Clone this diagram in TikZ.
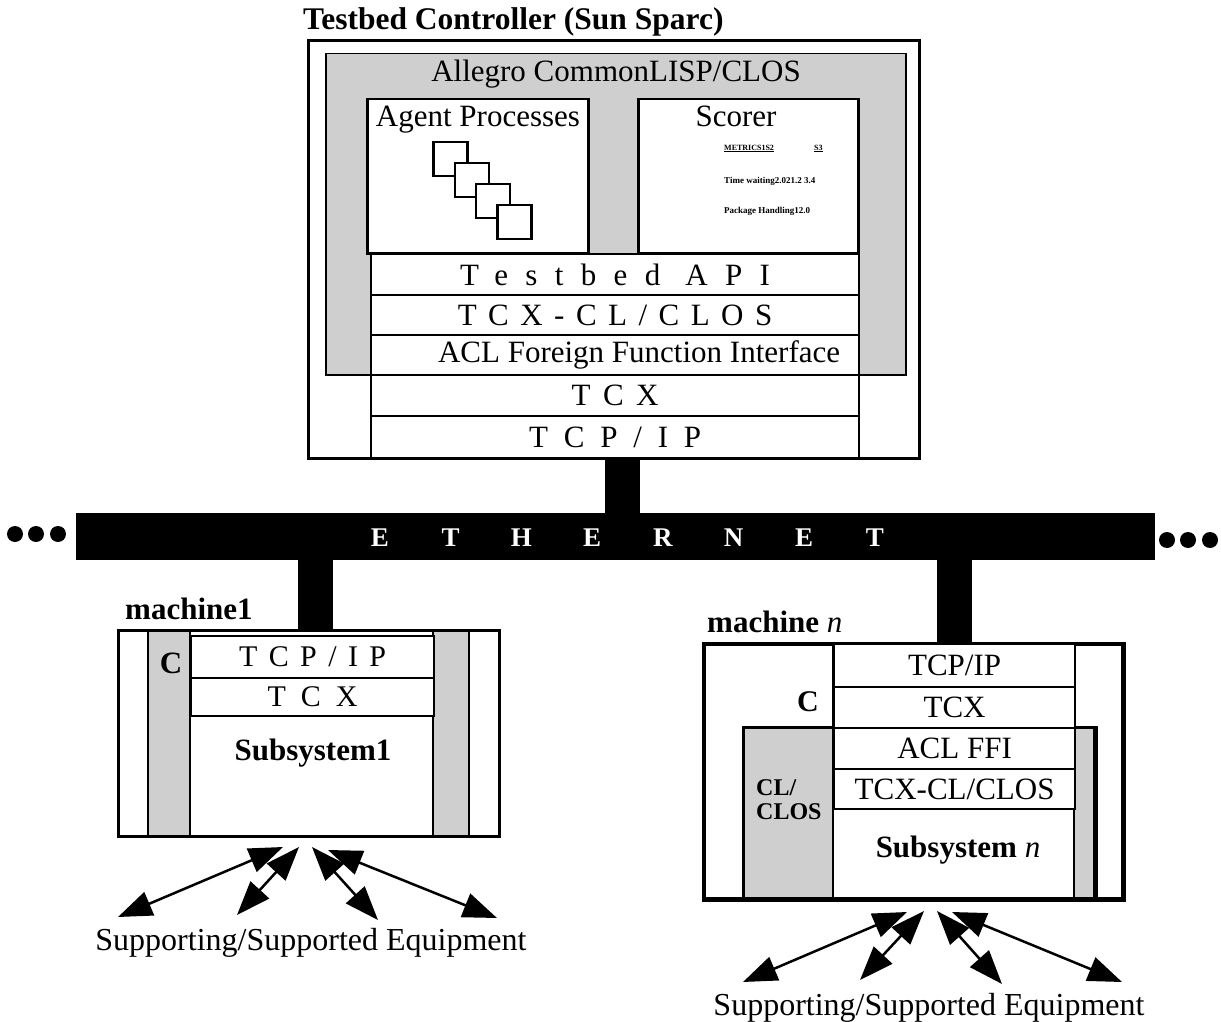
\documentclass[tikz,border=0pt]{standalone}
\usepackage{fontspec}
\setmainfont{Liberation Serif}
\usetikzlibrary{arrows.meta}

\newcommand\fsz[1]{\fontsize{#1}{#1}\selectfont}
\newcommand\ls[1]{\addfontfeatures{LetterSpace=#1}}

\tikzset{
  frame/.style={draw, line width=3pt, fill=white, inner sep=0pt, anchor=north west},
  panel/.style={draw, line width=2.5pt, fill=white, inner sep=0pt, anchor=north west},
  layer/.style={draw, line width=2.2pt, fill=white, inner sep=0pt, anchor=north west, font=\fsz{31}},
  stipple/.style={fill=black!19},
  lbl/.style={inner sep=0pt, anchor=base},
  proc/.style={draw, line width=2.5pt, fill=white, inner sep=0pt, minimum size=34pt},
  tiny/.style={inner sep=0pt, anchor=base west, font=\bfseries\fsz{9}},
  stub/.style={line width=35pt},
  bigdot/.style={circle, fill=black, inner sep=0pt, minimum size=16pt},
  equip/.style={{Triangle[length=34pt,width=25pt]}-{Triangle[length=34pt,width=25pt]}, line width=2.5pt},
}

\begin{document}
\begin{tikzpicture}[x=1pt, y=-1pt]
\useasboundingbox (0,0) rectangle (1221,1022);

% ---------------- Testbed controller ----------------
\node[frame, minimum width=611pt, minimum height=418pt] (ctrl) at (307,39) {};
\node[lbl, anchor=base west, font=\bfseries\fsz{31.5}] (ctrltitle) at (303,30) {Testbed Controller (Sun Sparc)};

\node[draw, line width=1.5pt, stipple, inner sep=0pt, anchor=north west,
      minimum width=580pt, minimum height=321pt] (acl) at (325,53) {};
\node[lbl, font=\fsz{31}] (acltext) at (616,82) {Allegro CommonLISP/CLOS};

% agent processes
\node[panel, minimum width=221pt, minimum height=154pt] (agent) at (366,98) {};
\node[lbl, font=\fsz{31}] (agenttext) at (478,127) {Agent Processes};
\foreach \i in {0,...,3}
  \node[proc] (proc\i) at ({450.5+21.3*\i},{159+21*\i}) {};

% scorer
\node[panel, minimum width=220pt, minimum height=154pt] (scorer) at (637,98) {};
\node[lbl, font=\fsz{31}] (scorertext) at (736,127) {Scorer};
\node[tiny, font=\bfseries\fsz{8}] (sc1) at (724,150) {\underline{METRICS1S2}};
\node[tiny, font=\bfseries\fsz{8}] (sc2) at (814,150) {\underline{S3}};
\node[tiny] (sc3) at (724,183) {Time waiting2.021.2 3.4};
\node[tiny] (sc4) at (724,213) {Package Handling12.0};

% protocol stack
\node[layer, minimum width=488pt, minimum height=41pt] (api) at (370,253) {\ls{56}Testbed API};
\node[layer, minimum width=488pt, minimum height=40pt] (tcxcl) at (370,294) {\ls{37}TCX-CL/CLOS};
\node[layer, minimum width=488pt, minimum height=40pt] (ffi) at (370,334) {\hspace*{48pt}ACL Foreign Function Interface};
\node[layer, minimum width=488pt, minimum height=41pt] (tcx) at (370,374) {\ls{40}TCX};
\node[layer, minimum width=488pt, minimum height=42pt] (tcp) at (370,415) {\ls{51}TCP/IP};

% ---------------- Ethernet ----------------
\node[fill=black, inner sep=0pt, anchor=north west, minimum width=1079pt, minimum height=47pt] (ether) at (76,513) {};
\foreach \l [count=\i] in {E,T,H,E,R,N,E,T}
  \node[text=white, font=\bfseries\fsz{27}, inner sep=0pt] (eth\i) at ({380+70.7*(\i-1)},538) {\l};
\foreach \x [count=\i] in {15,36,58}
  \node[bigdot] (ldot\i) at (\x,534) {};
\foreach \x [count=\i] in {1167,1188,1210}
  \node[bigdot] (rdot\i) at (\x,540) {};

\coordinate (s0) at (622.5,0);
\coordinate (s1) at (315.5,0);
\coordinate (s2) at (954.5,0);

% ---------------- machine 1 ----------------
\node[frame, minimum width=381pt, minimum height=206pt] (m1) at (117,629) {};
\fill[stipple] (148,629) rectangle (190,835);
\fill[stipple] (433,629) rectangle (469,835);
\foreach \x in {148,190,433,469}
  \draw[line width=2.5pt] (\x,629) -- (\x,835);
\node[frame, minimum width=381pt, minimum height=206pt, fill=none] (m1b) at (117,629) {};
\node[layer, font=\fsz{30}, minimum width=243pt, minimum height=42pt] (m1tcp) at (190,635) {\ls{38}TCP/IP};
\node[layer, font=\fsz{30}, minimum width=243pt, minimum height=38pt] (m1tcx) at (190,677) {\ls{50}TCX};
\node[lbl, font=\bfseries\fsz{31}] (m1sub) at (313,760) {Subsystem1};
\node[font=\bfseries\fsz{31}, inner sep=0pt] (m1c) at (171,663) {C};
\node[lbl, anchor=base west, font=\bfseries\fsz{31}] (m1name) at (125,619) {machine1};

% ---------------- machine n ----------------
\node[frame, minimum width=418pt, minimum height=254pt] (mn) at (703,643) {};
\node[frame, minimum width=350pt, minimum height=170pt] (mncl) at (743,727) {};
\fill[stipple] (743,727) rectangle (833,897);
\fill[stipple] (1074,727) rectangle (1093,897);
\draw[line width=2.5pt] (833,643) -- (833,897);
\draw[line width=2.5pt] (1074,643) -- (1074,897);
\draw[line width=3pt] (mncl.north west) rectangle (mncl.south east);
\draw[line width=3pt] (mn.north west) rectangle (mn.south east);
\node[layer, minimum width=241pt, minimum height=43pt] (mntcp) at (833,643) {TCP/IP};
\node[layer, minimum width=241pt, minimum height=41pt] (mntcx) at (833,686) {TCX};
\node[layer, minimum width=241pt, minimum height=41pt] (mnffi) at (833,727) {ACL FFI};
\node[layer, minimum width=241pt, minimum height=40pt] (mntcxcl) at (833,768) {TCX-CL/CLOS};
\node[lbl, font=\bfseries\fsz{31}] (mnsub) at (958,857) {Subsystem \mdseries\itshape n};
\node[font=\bfseries\fsz{30}, inner sep=0pt] (mnc) at (808,702) {C};
\node[lbl, anchor=base west, font=\bfseries\fsz{24}] (mncl1) at (756,795) {CL/};
\node[lbl, anchor=base west, font=\bfseries\fsz{24}] (mncl2) at (756,819) {CLOS};
\node[lbl, anchor=base west, font=\bfseries\fsz{31}] (mnname) at (707,632) {machine \mdseries\itshape n};

% ---------------- network drops ----------------
\draw[stub] (s0 |- ctrl.south) -- (s0 |- ether.north);
\draw[stub] (s1 |- ether.south) -- (s1 |- m1.north);
\draw[stub] (s2 |- ether.south) -- (s2 |- mn.north);

% ---------------- equipment links ----------------
\coordinate (a1) at (283,847); \coordinate (b1) at (118,917);
\coordinate (a2) at (299,847); \coordinate (b2) at (237,915);
\coordinate (a3) at (312,847); \coordinate (b3) at (378,920);
\coordinate (a4) at (328,850); \coordinate (b4) at (497,918);
\foreach \i in {1,...,4} \draw[equip] (a\i) -- (b\i);
\node[lbl, font=\fsz{32}] (eq1) at (311,950) {Supporting/Supported Equipment};

\coordinate (c1) at (907,912); \coordinate (d1) at (743,982);
\coordinate (c2) at (924,911); \coordinate (d2) at (860,980);
\coordinate (c3) at (937,911); \coordinate (d3) at (1002,984);
\coordinate (c4) at (952,912); \coordinate (d4) at (1122,982);
\foreach \i in {1,...,4} \draw[equip] (c\i) -- (d\i);
\node[lbl, font=\fsz{32}] (eq2) at (929,1015) {Supporting/Supported Equipment};
\end{tikzpicture}
\end{document}
